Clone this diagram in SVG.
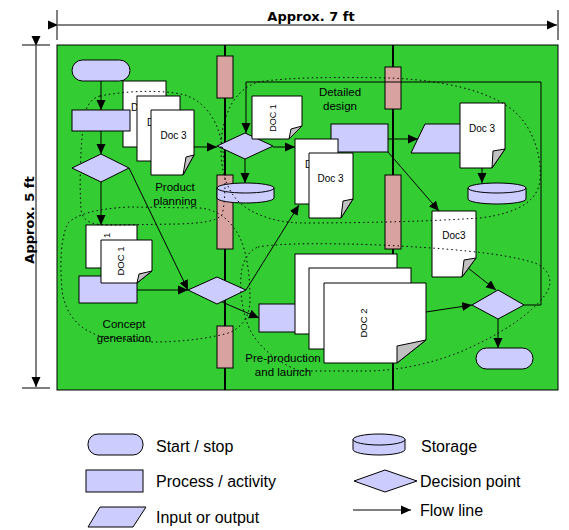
<svg xmlns="http://www.w3.org/2000/svg" width="569" height="530" viewBox="0 0 569 530">
<style>
.ln{stroke:#000;stroke-width:1;fill:none}
.sh{fill:#ccccff;stroke:#000;stroke-width:1}
.doc{fill:#fff;stroke:#000;stroke-width:1}
.flap{fill:#c0c0c0;stroke:#000;stroke-width:1}
.box{fill:#d8a2a0;stroke:#000;stroke-width:1}
.dot{fill:none;stroke:#000;stroke-width:1;stroke-dasharray:1.5 3}
.ph{font-family:"Liberation Sans",Arial,sans-serif;font-size:11.5px;fill:#000;text-anchor:middle}
.dt{font-family:"Liberation Sans",Arial,sans-serif;font-size:10px;fill:#000}
.lg{font-family:"Liberation Sans",Arial,sans-serif;font-size:16px;fill:#000}
.dim{font-family:"DejaVu Sans",sans-serif;font-size:13px;font-weight:bold;fill:#000;text-anchor:middle}
</style>
<defs>
<marker id="ah" viewBox="0 0 10 10" refX="10" refY="5" markerWidth="10" markerHeight="10" markerUnits="userSpaceOnUse" orient="auto">
<path d="M0,0.5 L10,5 L0,9.5 Z" fill="#000"/>
</marker>
</defs>
<rect width="569" height="530" fill="#fff"/>

<g id="dimensions">
<line class="ln" x1="57" y1="10" x2="57" y2="40"/>
<line class="ln" x1="558" y1="10" x2="558" y2="40"/>
<line class="ln" x1="58" y1="25" x2="557" y2="25" marker-start="url(#ah)" marker-end="url(#ah)"/>
<text class="dim" x="311" y="21">Approx. 7 ft</text>
<line class="ln" x1="22" y1="45" x2="50" y2="45"/>
<line class="ln" x1="22" y1="388" x2="50" y2="388"/>
<line class="ln" x1="36" y1="46" x2="36" y2="387" marker-start="url(#ah)" marker-end="url(#ah)"/>
<text class="dim" transform="translate(34,220) rotate(-90)">Approx. 5 ft</text>
</g>

<g id="board">
<rect x="57" y="45" width="501" height="345" fill="#33cc33" stroke="#000" stroke-width="1"/>
<line x1="225" y1="45" x2="225" y2="390" stroke="#000" stroke-width="2"/>
<line x1="393" y1="45" x2="393" y2="390" stroke="#000" stroke-width="2"/>
<rect class="box" x="217" y="56" width="16" height="42"/>
<rect class="box" x="217" y="175" width="16" height="74"/>
<rect class="box" x="217" y="326" width="16" height="42"/>
<rect class="box" x="385" y="67" width="16" height="42"/>
<rect class="box" x="385" y="175" width="16" height="74"/>
</g>

<g id="start"><rect class="sh" x="72" y="60" width="58" height="21" rx="10.5"/></g>

<g id="docs-planning">
<rect class="doc" x="123" y="81" width="43" height="66"/>
<text class="dt" x="131" y="111">D</text>
<rect class="doc" x="137" y="96" width="43" height="65"/>
<text class="dt" x="147" y="126">D</text>
<path class="doc" d="M151,110 H194 V155 L183,175 H151 Z"/>
<path class="flap" d="M183,175 L186,157 L194,155 Z"/>
<text class="dt" x="173.5" y="139" text-anchor="middle">Doc 3</text>
</g>

<g id="concept-process"><rect class="sh" x="79" y="276" width="58" height="27"/></g>
<g id="docs-concept">
<rect class="doc" x="86" y="225" width="51" height="43"/>
<text class="dt" style="font-size:9.5px" transform="translate(110,238) rotate(-90)">1</text>
<path class="doc" d="M101,240 H152 V271 L137,283 H101 Z"/>
<path class="flap" d="M137,283 L139,274 L152,271 Z"/>
<text class="dt" style="font-size:9.5px" text-anchor="middle" transform="translate(124,261) rotate(-90)">DOC 1</text>
</g>

<g id="gate-1"><polygon class="sh" points="188,290 217,277 246,290 217,304"/></g>

<g id="design-diamond"><polygon class="sh" points="217,146 245,133 273,146 245,159"/></g>
<g id="design-storage">
<path class="sh" d="M217,188 A28.5,5 0 0 1 274,188 V198 A28.5,5 0 0 1 217,198 Z"/>
<path class="ln" d="M217,188 A28.5,5 0 0 0 274,188"/>
</g>
<g id="design-doc1">
<path class="doc" d="M252,96 H302 V126 L289,139 H252 Z"/>
<path class="flap" d="M289,139 L291,129 L302,126 Z"/>
<text class="dt" style="font-size:9px" text-anchor="middle" transform="translate(276,118) rotate(-90)">DOC 1</text>
</g>
<g id="design-process"><rect class="sh" x="331" y="124" width="57" height="28"/></g>
<g id="design-docs">
<rect class="doc" x="295" y="139" width="43" height="65"/>
<text class="dt" x="305" y="168">D</text>
<path class="doc" d="M309,153 H353 V199 L341,218 H309 Z"/>
<path class="flap" d="M341,218 L343,201 L353,199 Z"/>
<text class="dt" x="330.5" y="182" text-anchor="middle">Doc 3</text>
</g>

<g id="design-io"><polygon class="sh" points="425,124 475,124 461,153 411,153"/></g>
<g id="design-doc3">
<path class="doc" d="M460,103 H505 V149 L492,168 H460 Z"/>
<path class="flap" d="M492,168 L493,151 L505,149 Z"/>
<text class="dt" x="482" y="132" text-anchor="middle">Doc 3</text>
</g>
<g id="design-storage-2">
<path class="sh" d="M468,188 A29,5 0 0 1 526,188 V199 A29,5 0 0 1 468,199 Z"/>
<path class="ln" d="M468,188 A29,5 0 0 0 526,188"/>
</g>
<g id="launch-doc3">
<path class="doc" d="M432,211 H476 V258 L462,277 H432 Z"/>
<path class="flap" d="M462,277 L464,260 L476,258 Z"/>
<text class="dt" x="454" y="239" text-anchor="middle">Doc3</text>
</g>

<g id="launch-process"><rect class="sh" x="259" y="304" width="40" height="28"/></g>
<g id="launch-docs">
<rect class="doc" x="295" y="254" width="102" height="80"/>
<rect class="doc" x="309" y="268" width="102" height="81"/>
<path class="doc" d="M324,283 H426 V340 L397,363 H324 Z"/>
<path class="flap" d="M397,363 L397,346 L426,340 Z"/>
<text class="dt" style="font-size:9.5px" text-anchor="middle" transform="translate(367,323) rotate(-90)">DOC 2</text>
</g>
<g id="gate-2"><polygon class="sh" points="472,305 498,290 524,305 498,319"/></g>
<g id="stop"><rect class="sh" x="476" y="348" width="57" height="21" rx="10.5"/></g>

<g id="phases">
<path class="dot" d="M100,96 C130,90 165,90 185,95 C205,102 218,120 222,145 C226,170 226,200 222,215 C215,222 200,223 180,224 L110,225 C92,225 83,222 81,210 C79,180 81,140 84,118 C86,105 92,98 100,96 Z"/>
<path class="dot" d="M68,223 C78,214 95,209 128,207 L200,208 C220,210 232,222 240,238 C248,255 250,280 250,300 C250,318 240,330 225,334 C200,340 175,342 150,342 L100,336 C80,330 65,315 62,290 C60,265 60,240 68,223 Z"/>
<path class="dot" d="M258,82 C290,77 340,77 390,78 C440,80 490,90 515,112 C535,130 542,160 540,180 C538,200 520,213 480,218 C420,222 350,223 300,223 C270,222 250,212 240,203 C226,190 221,170 221,148 C221,125 228,105 240,93 C245,88 250,85 258,82 Z"/>
<path class="dot" d="M258,247 C280,243 330,243 380,245 C440,248 500,252 535,263 C552,270 553,285 545,295 C530,315 500,335 460,352 C430,364 400,370 370,371 L300,371 C275,362 258,345 250,330 C241,310 239,285 242,268 C245,258 250,250 258,247 Z"/>
<text class="ph" x="175" y="191">Product</text>
<text class="ph" x="175" y="204.5">planning</text>
<text class="ph" x="124" y="328">Concept</text>
<text class="ph" x="124" y="341.5">generation</text>
<text class="ph" x="340" y="96">Detailed</text>
<text class="ph" x="340" y="109.5">design</text>
<text class="ph" x="283" y="361.5">Pre-production</text>
<text class="ph" x="283" y="375.5">and launch</text>
</g>

<g id="planning-process"><rect class="sh" x="72" y="110" width="58" height="21"/></g>
<g id="planning-diamond"><polygon class="sh" points="72,168 101,154 129,168 101,182"/></g>

<g id="connectors">
<line class="ln" x1="101" y1="81" x2="101" y2="110" marker-end="url(#ah)"/>
<line class="ln" x1="101" y1="131" x2="101" y2="154" marker-end="url(#ah)"/>
<line class="ln" x1="101" y1="182" x2="101" y2="225" marker-end="url(#ah)"/>
<line class="ln" x1="129" y1="168" x2="188" y2="290" marker-end="url(#ah)"/>
<line class="ln" x1="137" y1="290" x2="188" y2="290" marker-end="url(#ah)"/>
<line class="ln" x1="194" y1="147" x2="217" y2="147" marker-end="url(#ah)"/>
<line class="ln" x1="273" y1="147" x2="295" y2="147" marker-end="url(#ah)"/>
<line class="ln" x1="245" y1="159" x2="245" y2="183" marker-end="url(#ah)"/>
<line class="ln" x1="246" y1="290" x2="299" y2="205" marker-end="url(#ah)"/>
<line class="ln" x1="222" y1="302" x2="259" y2="318" marker-end="url(#ah)"/>
<line class="ln" x1="388" y1="139" x2="418" y2="139" marker-end="url(#ah)"/>
<line class="ln" x1="388" y1="152" x2="439" y2="211" marker-end="url(#ah)"/>
<line class="ln" x1="482" y1="168" x2="482" y2="183" marker-end="url(#ah)"/>
<line class="ln" x1="468" y1="268" x2="496" y2="290" marker-end="url(#ah)"/>
<line class="ln" x1="426" y1="312" x2="472" y2="305" marker-end="url(#ah)"/>
<line class="ln" x1="498" y1="319" x2="498" y2="348" marker-end="url(#ah)"/>
<path class="ln" d="M524,305 H541 V82 H246 V133" marker-end="url(#ah)"/>
</g>

<g id="legend">
<rect class="sh" x="88" y="434" width="55" height="21" rx="10"/>
<text class="lg" x="156" y="452">Start / stop</text>
<rect class="sh" x="86" y="470" width="57" height="22"/>
<text class="lg" x="156" y="487">Process / activity</text>
<polygon class="sh" points="100,507 146,507 133,527 88,527"/>
<text class="lg" x="156" y="523">Input or output</text>
<path class="sh" d="M353,439.5 A26,5.5 0 0 1 405,439.5 V449.5 A26,5.5 0 0 1 353,449.5 Z"/>
<path class="ln" d="M353,439.5 A26,5.5 0 0 0 405,439.5"/>
<text class="lg" x="421" y="452">Storage</text>
<polygon class="sh" points="354,481 385,470 417,481 385,492"/>
<text class="lg" x="420" y="487">Decision point</text>
<line class="ln" x1="353" y1="510" x2="411" y2="510" marker-end="url(#ah)"/>
<text class="lg" x="420" y="516">Flow line</text>
</g>
</svg>
